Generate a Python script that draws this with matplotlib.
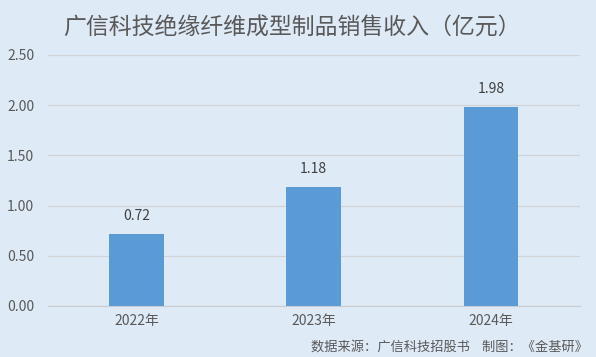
import matplotlib.pyplot as plt

plt.rcParams['font.family'] = ['Noto Sans CJK SC', 'DejaVu Sans']

years = ['2022年', '2023年', '2024年']
revenue = [0.72, 1.18, 1.98]
yticks = [0.0, 0.5, 1.0, 1.5, 2.0, 2.5]

BG = '#DEEAF6'
BAR = '#5B9BD5'
TXT = '#595959'

fig = plt.figure(figsize=(5.96, 3.57), dpi=100, facecolor=BG)
ax = fig.add_axes([0.0805, 0.143, 0.892, 0.703], facecolor=BG)

x = range(len(years))
bars = ax.bar(x, revenue, width=0.31, color=BAR, zorder=3)
for xi, v in zip(x, revenue):
    ax.annotate(f'{v:.2f}', (xi, v), xytext=(0, 8), textcoords='offset points',
                ha='center', va='bottom', fontsize=10, color='#404040')

ax.set_xlim(-0.5, len(years) - 0.5)
ax.set_ylim(0, 2.5)
ax.set_yticks(yticks)
ax.set_yticklabels([f'{t:.2f}' for t in yticks], fontsize=10, color=TXT)
ax.set_xticks(list(x))
ax.set_xticklabels(years, fontsize=10, color=TXT)
ax.grid(axis='y', color='#D0D4D8', linewidth=0.9, zorder=0)
ax.tick_params(axis='y', length=0, pad=10)
ax.tick_params(axis='x', length=0, pad=6)
for s in ['top', 'right', 'left']:
    ax.spines[s].set_visible(False)
ax.spines['bottom'].set_color('#C8CCD0')

fig.text(0.49, 0.922, '广信科技绝缘纤维成型制品销售收入（亿元）', ha='center', va='center',
         fontsize=16.5, color=TXT)
fig.text(0.987, 0.027, '数据来源：广信科技招股书    制图：《金基研》', ha='right', va='center',
         fontsize=9.5, color=TXT)

fig.savefig('out.png', dpi=100, facecolor=BG)
